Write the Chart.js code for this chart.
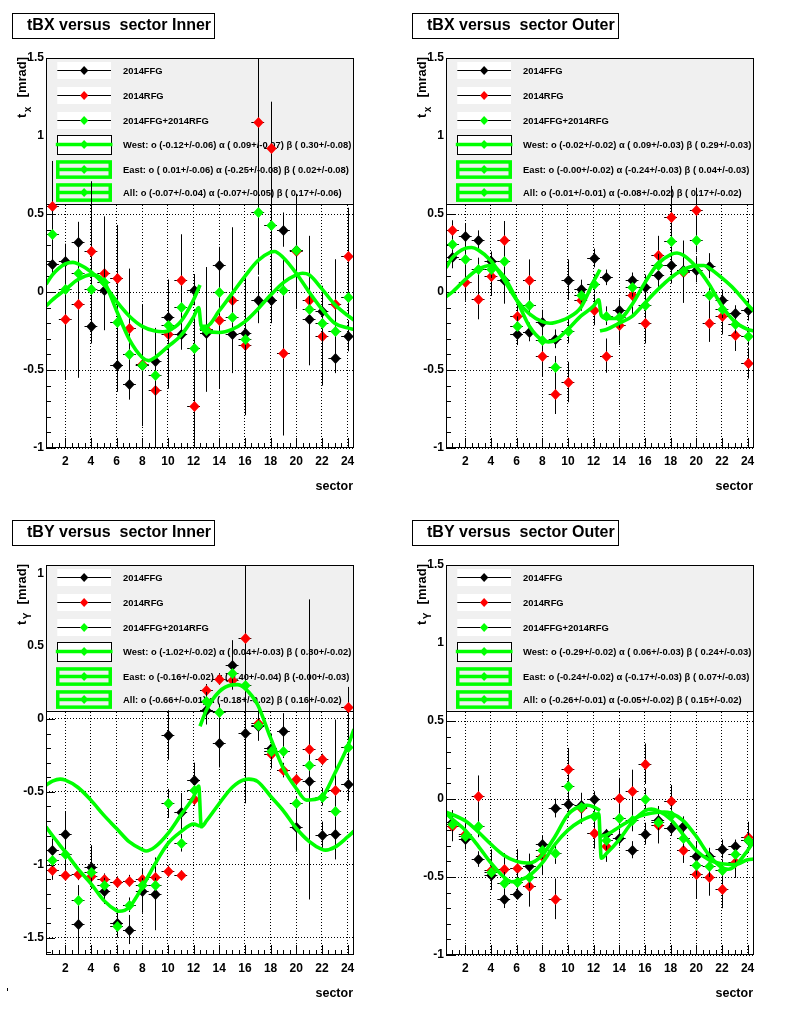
<!DOCTYPE html>
<html>
<head>
<meta charset="utf-8">
<script src="https://cdn.jsdelivr.net/npm/chart.js@4.4.0/dist/chart.umd.min.js"></script>
<style>
  body { margin: 0; background: #fff; width: 800px; height: 1014px; position: relative; overflow: hidden; }
  .pad { position: absolute; width: 400px; height: 507px; }
</style>
</head>
<body>
<div class="pad" style="left:0;top:0"><canvas id="c1" width="400" height="507"></canvas></div>
<div class="pad" style="left:400px;top:0"><canvas id="c2" width="400" height="507"></canvas></div>
<div class="pad" style="left:0;top:507px"><canvas id="c3" width="400" height="507"></canvas></div>
<div class="pad" style="left:400px;top:507px"><canvas id="c4" width="400" height="507"></canvas></div>
<script>
// sectors and axis ticks
const sectors = [1,2,3,4,5,6,7,8,9,10,11,12,13,14,15,16,17,18,19,20,21,22,23,24];
const xTickValues = [2,4,6,8,10,12,14,16,18,20,22,24];
const xTickLabels = ['2','4','6','8','10','12','14','16','18','20','22','24'];
const yTicksA = [-1, -0.5, 0, 0.5, 1, 1.5];
const yLabelsA = ['-1', '-0.5', '0', '0.5', '1', '1.5'];
const yTicksB = [-1.5, -1, -0.5, 0, 0.5, 1];
const yLabelsB = ['-1.5', '-1', '-0.5', '0', '0.5', '1'];
const xErr = 0.5;

// ---- tBX Inner ----
const p1Black = [0.18, 0.20, 0.32, -0.22, 0.01, -0.47, -0.59, -0.47, -0.44, -0.16, -0.27, 0.015, -0.26, 0.17, -0.27, -0.26, -0.05, -0.05, 0.40, 0.27, -0.17, -0.12, -0.42, -0.28];
const p1BlackErr = [0.07, 0.11, 0.13, 0.11, 0.2, 0.17, 0.1, 0.39, 0.15, 0.15, 0.1, 0.1, 0.2, 0.12, 0.25, 0.27, 0.15, 0.15, 0.11, 0.2, 0.3, 0.1, 0.1, 0.1];
const p1Red = [0.55, -0.17, -0.08, 0.26, 0.12, 0.09, -0.23, -0.46, -0.63, -0.27, 0.08, -0.73, -0.24, -0.18, -0.05, -0.34, 1.09, 0.92, -0.39, 0.26, -0.05, -0.28, -0.08, 0.23];
const p1RedErr = [0.29, 0.39, 0.47, 0.45, 0.365, 0.34, 0.38, 0.3, 0.4, 0.35, 0.29, 0.3, 0.4, 0.44, 0.465, 0.45, 0.6, 0.3, 0.53, 0.37, 0.41, 0.32, 0.29, 0.31];
const p1Green = [0.37, 0.02, 0.125, 0.02, 0.065, -0.19, -0.40, -0.47, -0.53, -0.21, -0.095, -0.36, -0.245, 0.0, -0.16, -0.30, 0.51, 0.43, 0.01, 0.27, -0.11, -0.20, -0.25, -0.03];
const p1GreenErr = [0.15, 0.15, 0.15, 0.15, 0.15, 0.15, 0.1, 0.25, 0.15, 0.15, 0.12, 0.25, 0.12, 0.15, 0.2, 0.2, 0.4, 0.38, 0.2, 0.15, 0.2, 0.12, 0.12, 0.12];
const p1WestX = [0.5, 1, 2, 2.6, 3, 4, 5, 6, 7, 8, 9, 9.6, 10, 11, 12, 12.5];
const p1WestY = [0.05, 0.11, 0.18, 0.19, 0.18, 0.13, 0.05, -0.06, -0.155, -0.22, -0.25, -0.255, -0.25, -0.19, -0.05, 0.045];
const p1EastX = [12.5, 13, 14, 15, 16, 17, 18, 19, 20, 20.5, 21, 22, 23, 24, 24.5];
const p1EastY = [-0.23, -0.25, -0.26, -0.24, -0.19, -0.11, -0.02, 0.06, 0.11, 0.12, 0.11, 0.02, -0.08, -0.15, -0.18];
const p1AllX = [0.5, 1, 2, 3, 4, 5, 6, 7, 8, 8.5, 9, 10, 11, 12, 12.4, 12.6, 13, 14, 15, 16, 17, 18, 18.3, 19, 20, 21, 22, 23, 24, 24.5];
const p1AllY = [-0.09, -0.05, 0.015, 0.08, 0.11, 0.07, -0.12, -0.305, -0.42, -0.44, -0.42, -0.35, -0.28, -0.16, -0.10, -0.22, -0.22, -0.12, -0.01, 0.10, 0.20, 0.255, 0.26, 0.22, 0.12, 0.0, -0.11, -0.2, -0.23, -0.24];
const p1Fits = ['West: o (-0.12+/-0.06) \u03b1 ( 0.09+/-0.07) \u03b2 ( 0.30+/-0.08)',
                'East: o ( 0.01+/-0.06) \u03b1 (-0.25+/-0.08) \u03b2 ( 0.02+/-0.08)',
                'All: o (-0.07+/-0.04) \u03b1 (-0.07+/-0.05) \u03b2 ( 0.17+/-0.06)'];

// ---- tBX Outer ----
const p2Black = [0.222, 0.357, 0.335, 0.20, 0.075, -0.27, -0.256, -0.194, -0.30, 0.079, 0.019, 0.218, 0.094, -0.118, 0.075, 0.032, 0.111, 0.175, 0.14, 0.143, 0.169, -0.05, -0.135, -0.113];
const p2BlackErr = [0.07, 0.08, 0.06, 0.06, 0.15, 0.07, 0.06, 0.08, 0.06, 0.13, 0.06, 0.06, 0.05, 0.07, 0.05, 0.08, 0.1, 0.12, 0.13, 0.08, 0.08, 0.065, 0.05, 0.07];
const p2Red = [0.40, 0.064, -0.045, 0.105, 0.335, -0.156, 0.079, -0.412, -0.652, -0.577, -0.05, -0.113, -0.408, -0.21, -0.017, -0.20, 0.24, 0.48, 0.13, 0.528, -0.20, -0.152, -0.278, -0.455];
const p2RedErr = [0.06, 0.12, 0.13, 0.13, 0.12, 0.1, 0.13, 0.13, 0.13, 0.13, 0.07, 0.1, 0.11, 0.13, 0.13, 0.13, 0.12, 0.2, 0.2, 0.14, 0.12, 0.12, 0.1, 0.1];
const p2Green = [0.31, 0.214, 0.15, 0.15, 0.20, -0.216, -0.085, -0.306, -0.48, -0.248, -0.017, 0.053, -0.152, -0.16, 0.03, -0.083, 0.175, 0.33, 0.132, 0.335, -0.017, -0.107, -0.205, -0.284];
const p2GreenErr = [0.05, 0.07, 0.07, 0.06, 0.07, 0.06, 0.07, 0.07, 0.07, 0.08, 0.05, 0.06, 0.06, 0.07, 0.06, 0.07, 0.07, 0.1, 0.1, 0.08, 0.07, 0.06, 0.06, 0.06];
const p2WestX = [0.5, 1, 2, 2.5, 3, 4, 5, 6, 7, 8, 8.6, 9, 10, 11, 12, 12.5];
const p2WestY = [0.155, 0.22, 0.28, 0.285, 0.27, 0.2, 0.08, -0.05, -0.14, -0.19, -0.2, -0.195, -0.165, -0.1, 0.068, 0.143];
const p2EastX = [12.5, 13, 14, 15, 16, 17, 18, 19, 20, 20.6, 21, 22, 23, 24, 24.5];
const p2EastY = [-0.25, -0.24, -0.2, -0.156, -0.07, 0.015, 0.09, 0.143, 0.169, 0.17, 0.154, 0.09, 0.015, -0.08, -0.124];
const p2AllX = [0.5, 1, 2, 3, 4, 5, 6, 7, 8, 8.5, 9, 10, 11, 12, 12.4, 12.6, 13, 14, 15, 16, 17, 18, 18.5, 19, 20, 21, 22, 23, 24, 24.5];
const p2AllY = [-0.03, 0.0, 0.08, 0.145, 0.17, 0.1, -0.05, -0.22, -0.31, -0.32, -0.31, -0.24, -0.155, -0.09, -0.05, -0.15, -0.17, -0.17, -0.08, 0.06, 0.18, 0.24, 0.25, 0.235, 0.16, 0.05, -0.09, -0.19, -0.24, -0.25];
const p2Fits = ['West: o (-0.02+/-0.02) \u03b1 ( 0.09+/-0.03) \u03b2 ( 0.29+/-0.03)',
                'East: o (-0.00+/-0.02) \u03b1 (-0.24+/-0.03) \u03b2 ( 0.04+/-0.03)',
                'All: o (-0.01+/-0.01) \u03b1 (-0.08+/-0.02) \u03b2 ( 0.17+/-0.02)'];

// ---- tBY Inner ----
const p3Black = [-0.90, -0.787, -1.41, -1.016, -1.18, -1.40, -1.445, -1.18, -1.20, -0.11, -0.638, -0.42, 0.062, -0.163, 0.371, -0.099, -0.05, -0.20, -0.08, -0.74, -0.427, -0.794, -0.787, -0.443];
const p3BlackErr = [0.08, 0.15, 0.25, 0.15, 0.09, 0.1, 0.1, 0.15, 0.25, 0.17, 0.13, 0.12, 0.1, 0.17, 0.17, 0.48, 0.1, 0.1, 0.12, 0.17, 0.8, 0.09, 0.16, 0.12];
const p3Red = [-1.034, -1.069, -1.066, -1.08, -1.10, -1.12, -1.11, -1.10, -1.085, -1.046, -1.069, -0.546, 0.20, 0.275, 0.268, 0.555, -0.03, -0.24, -0.351, -0.415, -0.209, -0.278, -0.484, 0.08];
const p3RedErr = [0.07, 0.04, 0.04, 0.05, 0.04, 0.04, 0.04, 0.04, 0.04, 0.04, 0.03, 0.05, 0.04, 0.04, 0.05, 0.6, 0.1, 0.1, 0.05, 0.04, 1.03, 0.04, 0.48, 0.14];
const p3Green = [-0.966, -0.924, -1.24, -1.05, -1.14, -1.424, -1.275, -1.14, -1.14, -0.58, -0.85, -0.484, 0.126, 0.05, 0.314, 0.234, -0.041, -0.218, -0.218, -0.58, -0.317, -0.534, -0.633, -0.19];
const p3GreenErr = [0.05, 0.1, 0.1, 0.1, 0.05, 0.07, 0.05, 0.05, 0.05, 0.1, 0.06, 0.05, 0.06, 0.05, 0.1, 0.1, 0.05, 0.1, 0.05, 0.05, 0.05, 0.06, 0.05, 0.13];
const p3WestX = [0.5, 1, 2, 3, 4, 5, 6, 6.2, 7, 8, 9, 10, 11, 12, 12.5];
const p3WestY = [-0.74, -0.80, -0.913, -1.03, -1.13, -1.245, -1.315, -1.32, -1.29, -1.154, -0.994, -0.855, -0.775, -0.722, -0.736];
const p3EastX = [12.5, 13, 14, 15, 15.4, 16, 17, 18, 19, 20, 20.8, 21, 22, 23, 24, 24.5];
const p3EastY = [-0.05, 0.062, 0.188, 0.234, 0.236, 0.21, 0.096, -0.13, -0.34, -0.477, -0.557, -0.556, -0.534, -0.374, -0.19, -0.07];
const p3AllX = [0.5, 1, 1.6, 2, 3, 4, 5, 6, 7, 8, 8.3, 9, 10, 11, 12, 12.4, 12.6, 13, 14, 15, 16, 16.3, 17, 18, 19, 20, 21, 22, 22.3, 23, 24, 24.5];
const p3AllY = [-0.454, -0.427, -0.413, -0.42, -0.47, -0.557, -0.66, -0.752, -0.844, -0.897, -0.906, -0.878, -0.787, -0.66, -0.534, -0.46, -0.74, -0.70, -0.58, -0.47, -0.415, -0.413, -0.43, -0.53, -0.63, -0.75, -0.84, -0.895, -0.9, -0.88, -0.81, -0.77];
const p3Fits = ['West: o (-1.02+/-0.02) \u03b1 ( 0.04+/-0.03) \u03b2 ( 0.30+/-0.02)',
                'East: o (-0.16+/-0.02) \u03b1 ( 0.40+/-0.04) \u03b2 (-0.00+/-0.03)',
                'All: o (-0.66+/-0.01) \u03b1 (-0.18+/-0.02) \u03b2 ( 0.16+/-0.02)'];

// ---- tBY Outer ----
const p4Black = [-0.15, -0.254, -0.385, -0.49, -0.639, -0.607, -0.43, -0.286, -0.058, -0.03, -0.04, 0.0, -0.222, -0.25, -0.325, -0.222, -0.137, -0.186, -0.171, -0.363, -0.363, -0.32, -0.30, -0.26];
const p4BlackErr = [0.05, 0.06, 0.05, 0.05, 0.06, 0.03, 0.08, 0.05, 0.06, 0.09, 0.06, 0.05, 0.03, 0.05, 0.055, 0.07, 0.05, 0.05, 0.06, 0.09, 0.05, 0.06, 0.04, 0.05];
const p4Red = [-0.171, -0.224, 0.021, -0.453, -0.447, -0.442, -0.56, -0.368, -0.64, 0.194, -0.06, -0.218, -0.303, 0.006, 0.053, 0.226, -0.165, -0.015, -0.33, -0.479, -0.50, -0.58, -0.406, -0.246];
const p4RedErr = [0.1, 0.1, 0.13, 0.13, 0.1, 0.12, 0.13, 0.12, 0.13, 0.133, 0.1, 0.1, 0.1, 0.13, 0.135, 0.13, 0.12, 0.105, 0.08, 0.156, 0.12, 0.12, 0.1, 0.1];
const p4Green = [-0.16, -0.24, -0.175, -0.47, -0.538, -0.532, -0.50, -0.325, -0.346, 0.085, -0.05, -0.107, -0.265, -0.122, -0.137, 0.0, -0.15, -0.10, -0.25, -0.42, -0.43, -0.457, -0.353, -0.265];
const p4GreenErr = [0.06, 0.06, 0.07, 0.06, 0.07, 0.06, 0.07, 0.06, 0.07, 0.07, 0.06, 0.06, 0.06, 0.07, 0.07, 0.07, 0.06, 0.06, 0.06, 0.07, 0.07, 0.07, 0.06, 0.06];
const p4WestX = [0.5, 1, 2, 3, 4, 5, 6, 6.8, 7, 8, 9, 10, 11, 11.5, 12, 12.5];
const p4WestY = [-0.085, -0.1, -0.14, -0.21, -0.29, -0.36, -0.40, -0.41, -0.41, -0.36, -0.24, -0.1, -0.045, -0.04, -0.05, -0.075];
const p4EastX = [12.5, 13, 14, 15, 16, 17, 17.5, 18, 19, 20, 21, 22, 22.5, 23, 24, 24.5];
const p4EastY = [-0.24, -0.23, -0.18, -0.13, -0.1, -0.085, -0.083, -0.09, -0.14, -0.24, -0.36, -0.44, -0.45, -0.43, -0.33, -0.27];
const p4AllX = [0.5, 1, 2, 3, 4, 5, 5.6, 6, 7, 8, 9, 10, 11, 12, 12.4, 12.6, 13, 14, 15, 16, 16.5, 17, 18, 19, 20, 21, 22, 23, 24, 24.5];
const p4AllY = [-0.09, -0.13, -0.2, -0.3, -0.41, -0.5, -0.53, -0.525, -0.49, -0.41, -0.29, -0.2, -0.14, -0.105, -0.095, -0.38, -0.35, -0.26, -0.15, -0.075, -0.065, -0.075, -0.13, -0.23, -0.33, -0.39, -0.415, -0.42, -0.39, -0.385];
const p4Fits = ['West: o (-0.29+/-0.02) \u03b1 ( 0.06+/-0.03) \u03b2 ( 0.24+/-0.03)',
                'East: o (-0.24+/-0.02) \u03b1 (-0.17+/-0.03) \u03b2 ( 0.07+/-0.03)',
                'All: o (-0.26+/-0.01) \u03b1 (-0.05+/-0.02) \u03b2 ( 0.15+/-0.02)'];

const seriesNames = ['2014FFG', '2014RFG', '2014FFG+2014RFG'];

const FONT = "'Liberation Sans', Arial, Helvetica, sans-serif";
const GREEN = '#00ff00', RED = '#ff0000', BLACK = '#000000';
const legendRows = [12.4, 37, 61.5, 85.7, 110.5, 134.3];
const legendHeight = 145.5;

function pts(ys) { return sectors.map((s, i) => ({ x: s, y: ys[i] })); }
function line(xs, ys) { return xs.map((x, i) => ({ x: x, y: ys[i] })); }

function diamond(ctx, x, y, r, color) {
  ctx.fillStyle = color;
  ctx.beginPath();
  ctx.moveTo(x, y - r * 1.08); ctx.lineTo(x + r, y); ctx.lineTo(x, y + r * 1.08); ctx.lineTo(x - r, y);
  ctx.closePath(); ctx.fill();
}

// error bars and markers drawn per graph, like ROOT does
const markers = {
  id: 'markers',
  afterDatasetDraw(chart, args) {
    const ds = chart.data.datasets[args.index];
    if (!ds.yErr) return;
    const { ctx, chartArea: a, scales: { x, y } } = chart;
    ctx.save();
    ctx.beginPath(); ctx.rect(a.left, a.top, a.right - a.left, a.bottom - a.top); ctx.clip();
    ctx.strokeStyle = BLACK; ctx.lineWidth = 1;
    ctx.beginPath();
    ds.data.forEach((pt, i) => {
      const e = ds.yErr[i];
      const px = Math.round(x.getPixelForValue(pt.x)) + 0.5;
      const py = Math.round(y.getPixelForValue(pt.y)) + 0.5;
      ctx.moveTo(px, y.getPixelForValue(pt.y + e)); ctx.lineTo(px, y.getPixelForValue(pt.y - e));
      ctx.moveTo(x.getPixelForValue(pt.x - xErr), py); ctx.lineTo(x.getPixelForValue(pt.x + xErr), py);
    });
    ctx.stroke();
    ds.data.forEach(pt => {
      diamond(ctx, Math.round(x.getPixelForValue(pt.x)) + 0.5, Math.round(y.getPixelForValue(pt.y)) + 0.5, 5.2, ds.mark);
    });
    ctx.restore();
  }
};

function makeDecor(p) {
  return {
    id: 'decor',
    beforeDatasetsDraw(chart) {
      const { ctx, chartArea: a, scales: { x, y } } = chart;
      ctx.save();
      // inner tick marks
      ctx.strokeStyle = BLACK; ctx.lineWidth = 1;
      ctx.beginPath();
      for (let k = 2; k <= 48; k++) {
        const v = k / 2;
        const px = Math.round(x.getPixelForValue(v)) + 0.5;
        const len = (v % 2 === 0) ? 10 : 5;
        ctx.moveTo(px, a.bottom); ctx.lineTo(px, a.bottom - len);
      }
      for (let k = Math.ceil(p.yMin * 10); k <= Math.floor(p.yMax * 10); k++) {
        const py = Math.round(y.getPixelForValue(k / 10)) + 0.5;
        const len = (k % 5 === 0) ? 9 : 5;
        ctx.moveTo(a.left, py); ctx.lineTo(a.left + len, py);
      }
      ctx.stroke();

      // legend box
      const L = a.left, T = a.top, W = a.right - a.left;
      ctx.fillStyle = '#f0f0f0';
      ctx.fillRect(L, T, W, legendHeight);
      const lb = Math.round(T + legendHeight) + 0.5;
      ctx.beginPath(); ctx.moveTo(L, lb); ctx.lineTo(a.right, lb); ctx.stroke();
      const x0 = L + 11.3, x1 = L + 65, xm = (x0 + x1) / 2;
      const texts = seriesNames.concat(p.fits);
      const cols = [BLACK, RED, GREEN];
      legendRows.forEach((dy, i) => {
        const cy = Math.round(T + dy) + 0.5;
        if (i < 3) {
          ctx.fillStyle = '#fff'; ctx.fillRect(x0, cy - 8.5, x1 - x0, 17);
          ctx.strokeStyle = BLACK; ctx.lineWidth = 1;
          ctx.beginPath(); ctx.moveTo(x0, cy); ctx.lineTo(x1, cy); ctx.stroke();
          diamond(ctx, xm, cy, 4.2, cols[i]);
        } else if (i === 3) {
          ctx.fillStyle = '#fff'; ctx.fillRect(x0, cy - 9.5, x1 - x0, 19);
          ctx.strokeStyle = BLACK; ctx.lineWidth = 1;
          ctx.strokeRect(Math.round(x0) + 0.5, Math.round(cy - 9.5) + 0.5, Math.round(x1 - x0), 19);
          ctx.strokeStyle = GREEN; ctx.lineWidth = 3.5;
          ctx.beginPath(); ctx.moveTo(x0 - 1.5, cy); ctx.lineTo(x1 + 1.5, cy); ctx.stroke();
          diamond(ctx, xm, cy, 4.2, GREEN);
        } else {
          ctx.strokeStyle = GREEN; ctx.lineWidth = 3.5;
          ctx.strokeRect(x0 - 1.3 + 1.75, cy - 9.3 + 1.75, (x1 - x0 + 2.3) - 3.5, 18.7 - 3.5);
          ctx.beginPath(); ctx.moveTo(x0, cy); ctx.lineTo(x1, cy); ctx.stroke();
          diamond(ctx, xm, cy, 4.2, GREEN);
        }
        ctx.fillStyle = BLACK;
        ctx.font = 'bold 9.4px ' + FONT;
        ctx.textAlign = 'left'; ctx.textBaseline = 'middle';
        ctx.fillText(texts[i], L + 77, cy + 0.5, W - 78);
      });
      ctx.restore();
    },
    afterDraw(chart) {
      const { ctx, chartArea: a } = chart;
      ctx.save();
      // frame
      ctx.strokeStyle = BLACK; ctx.lineWidth = 1;
      ctx.strokeRect(Math.round(a.left) + 0.5, Math.round(a.top) + 0.5,
                     Math.round(a.right - a.left) - 1, Math.round(a.bottom - a.top) - 1);
      // title box
      ctx.font = 'bold 16px ' + FONT;
      const tw = ctx.measureText(p.title).width;
      ctx.fillStyle = '#fff';
      ctx.fillRect(12, 13, tw + 18, 25);
      ctx.strokeRect(12.5, 13.5, Math.round(tw + 18), 25);
      ctx.fillStyle = BLACK; ctx.textAlign = 'left'; ctx.textBaseline = 'alphabetic';
      ctx.fillText(p.title, 27, 30);
      // x title
      ctx.font = 'bold 12.5px ' + FONT;
      ctx.textAlign = 'right';
      ctx.fillText('sector', a.right - 1, 490);
      if (p.mark) ctx.fillRect(7, 481, 1, 3);
      // y title, rotated, ending at the top of the frame
      ctx.translate(25.5, a.top - 1);
      ctx.rotate(-Math.PI / 2);
      ctx.textAlign = 'left';
      ctx.font = 'bold 13px ' + FONT;
      const wt = ctx.measureText('t').width;
      ctx.fillText('t', -61, 0);
      ctx.font = 'bold 10px ' + FONT;
      ctx.fillText(p.sub, -61 + wt + 1.5, 5);
      ctx.font = 'bold 13px ' + FONT;
      ctx.textAlign = 'right';
      ctx.fillText('[mrad]', 0, 0);
      ctx.restore();
    }
  };
}

function curveSet(data) {
  return { type: 'line', data: data, showLine: true, borderColor: GREEN, borderWidth: 3.6,
           pointRadius: 0, fill: false, cubicInterpolationMode: 'monotone', clip: 0, order: 0 };
}
// Chart.js points are hidden; the diamonds are painted with the error bars
function pointSet(ys, errs, color, order) {
  return { type: 'scatter', data: pts(ys), yErr: errs, mark: color, showLine: false,
           pointRadius: 0, backgroundColor: color, borderColor: color, clip: 0, order: order };
}

function makePanel(p) {
  const tickFont = { family: FONT, size: 12, weight: 'bold' };
  new Chart(document.getElementById(p.id), {
    type: 'scatter',
    data: {
      datasets: [
        curveSet(line(p.westX, p.westY)),
        curveSet(line(p.eastX, p.eastY)),
        curveSet(line(p.allX, p.allY)),
        pointSet(p.green, p.greenErr, GREEN, 1),
        pointSet(p.red, p.redErr, RED, 2),
        pointSet(p.black, p.blackErr, BLACK, 3)
      ]
    },
    options: {
      responsive: false,
      animation: false,
      events: [],
      layout: { padding: { left: 0, top: 58, right: 46, bottom: 0 } },
      plugins: { legend: { display: false }, tooltip: { enabled: false } },
      scales: {
        x: {
          type: 'linear', min: 0.5, max: 24.5, bounds: 'data',
          afterBuildTicks: s => { s.ticks = xTickValues.map(v => ({ value: v })); },
          afterFit: s => { s.height = 59; },
          ticks: { autoSkip: false, maxRotation: 0, padding: 6, color: BLACK, font: tickFont,
                   callback: v => xTickLabels[xTickValues.indexOf(v)] },
          grid: { color: BLACK, lineWidth: 1, drawTicks: false },
          border: { display: false, dash: [1, 2] }
        },
        y: {
          type: 'linear', min: p.yMin, max: p.yMax, bounds: 'data',
          afterBuildTicks: s => { s.ticks = p.yTicks.map(v => ({ value: v })); },
          afterFit: s => { s.width = 46; },
          ticks: { autoSkip: false, padding: 2, color: BLACK, font: tickFont,
                   callback: v => p.yLabels[p.yTicks.indexOf(v)] },
          grid: { color: BLACK, lineWidth: 1, drawTicks: false },
          border: { display: false, dash: [1, 2] }
        }
      }
    },
    plugins: [markers, makeDecor(p)]
  });
}

makePanel({ id: 'c1', title: 'tBX versus  sector Inner', sub: 'x', yMin: -1, yMax: 1.5, yTicks: yTicksA, yLabels: yLabelsA,
  black: p1Black, blackErr: p1BlackErr, red: p1Red, redErr: p1RedErr, green: p1Green, greenErr: p1GreenErr,
  westX: p1WestX, westY: p1WestY, eastX: p1EastX, eastY: p1EastY, allX: p1AllX, allY: p1AllY, fits: p1Fits });
makePanel({ id: 'c2', title: 'tBX versus  sector Outer', sub: 'x', yMin: -1, yMax: 1.5, yTicks: yTicksA, yLabels: yLabelsA,
  black: p2Black, blackErr: p2BlackErr, red: p2Red, redErr: p2RedErr, green: p2Green, greenErr: p2GreenErr,
  westX: p2WestX, westY: p2WestY, eastX: p2EastX, eastY: p2EastY, allX: p2AllX, allY: p2AllY, fits: p2Fits });
makePanel({ id: 'c3', title: 'tBY versus  sector Inner', sub: 'Y', yMin: -1.62, yMax: 1.057, yTicks: yTicksB, yLabels: yLabelsB, mark: true,
  black: p3Black, blackErr: p3BlackErr, red: p3Red, redErr: p3RedErr, green: p3Green, greenErr: p3GreenErr,
  westX: p3WestX, westY: p3WestY, eastX: p3EastX, eastY: p3EastY, allX: p3AllX, allY: p3AllY, fits: p3Fits });
makePanel({ id: 'c4', title: 'tBY versus  sector Outer', sub: 'Y', yMin: -1, yMax: 1.5, yTicks: yTicksA, yLabels: yLabelsA,
  black: p4Black, blackErr: p4BlackErr, red: p4Red, redErr: p4RedErr, green: p4Green, greenErr: p4GreenErr,
  westX: p4WestX, westY: p4WestY, eastX: p4EastX, eastY: p4EastY, allX: p4AllX, allY: p4AllY, fits: p4Fits });
</script>
</body>
</html>
